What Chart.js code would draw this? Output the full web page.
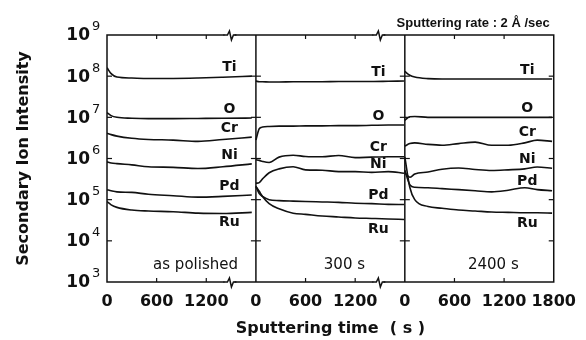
<!DOCTYPE html>
<html>
<head>
<meta charset="utf-8">
<script src="https://cdn.jsdelivr.net/npm/chart.js@4.4.1/dist/chart.umd.min.js"></script>
<style>
  html, body { margin: 0; padding: 0; background: #fff; }
  #wrap { width: 586px; height: 340px; }
</style>
</head>
<body>
<div id="wrap"><canvas id="sims"></canvas></div>
<script>
// Datos (intensidad vs tiempo de sputtering, 3 paneles)
const species = ['Ti', 'O', 'Cr', 'Ni', 'Pd', 'Ru'];
const panelNames = ['as polished', '300 s', '2400 s'];
const yExponents = [3, 4, 5, 6, 7, 8, 9];
const timeTicks = [0, 600, 1200];
const panelSpan = 1800;

// Panel 1 : as polished
const polishedTime = [0, 50, 120, 300, 500, 800, 1100, 1400, 1750];
const polishedTi = [1.6e8, 1.15e8, 9.5e7, 9.0e7, 8.8e7, 8.8e7, 9.0e7, 9.4e7, 1.0e8];
const polishedO  = [1.3e7, 1.1e7, 1.0e7, 9.5e6, 9.3e6, 9.3e6, 9.4e6, 9.5e6, 9.6e6];
const polishedCr = [4.1e6, 3.8e6, 3.5e6, 3.1e6, 2.9e6, 2.8e6, 2.6e6, 2.9e6, 3.3e6];
const polishedNi = [8.3e5, 7.8e5, 7.5e5, 7.0e5, 6.3e5, 6.1e5, 5.7e5, 6.3e5, 7.4e5];
const polishedPd = [1.75e5, 1.65e5, 1.55e5, 1.5e5, 1.35e5, 1.25e5, 1.15e5, 1.2e5, 1.3e5];
const polishedRu = [9.0e4, 7.5e4, 6.5e4, 5.6e4, 5.3e4, 5.1e4, 4.7e4, 4.6e4, 4.9e4];

// Panel 2 : 300 s
const t300Time = [0, 40, 80, 160, 280, 450, 600, 800, 1000, 1200, 1400, 1600, 1790];
const t300Ti = [7.6e7, 7.3e7, 7.3e7, 7.2e7, 7.2e7, 7.3e7, 7.3e7, 7.3e7, 7.4e7, 7.4e7, 7.4e7, 7.5e7, 7.6e7];
const t300O  = [2.8e6, 5.3e6, 5.8e6, 6.0e6, 6.1e6, 6.1e6, 6.2e6, 6.2e6, 6.3e6, 6.3e6, 6.4e6, 6.5e6, 6.5e6];
const t300Cr = [9.3e5, 9.0e5, 8.5e5, 8.0e5, 1.08e6, 1.2e6, 1.12e6, 1.1e6, 1.18e6, 1.05e6, 1.08e6, 1.1e6, 1.1e6];
const t300Ni = [2.5e5, 2.6e5, 3.2e5, 4.5e5, 5.6e5, 6.3e5, 5.3e5, 5.2e5, 4.8e5, 4.8e5, 4.6e5, 4.8e5, 4.4e5];
const t300Pd = [2.1e5, 1.4e5, 1.2e5, 1.0e5, 9.5e4, 9.2e4, 9.0e4, 8.8e4, 8.6e4, 8.2e4, 8.0e4, 7.7e4, 7.6e4];
const t300Ru = [2.1e5, 1.6e5, 1.2e5, 8.0e4, 6.0e4, 4.7e4, 4.4e4, 4.0e4, 3.8e4, 3.6e4, 3.5e4, 3.4e4, 3.3e4];

// Panel 3 : 2400 s
const t2400Time = [0, 60, 120, 280, 450, 650, 850, 1050, 1250, 1450, 1600, 1780];
const t2400Ti = [1.3e8, 1.05e8, 9.5e7, 8.7e7, 8.5e7, 8.5e7, 8.5e7, 8.5e7, 8.5e7, 8.5e7, 8.5e7, 8.5e7];
const t2400O  = [8.5e6, 1.03e7, 1.05e7, 1.0e7, 1.0e7, 1.0e7, 1.0e7, 1.0e7, 1.0e7, 1.0e7, 1.0e7, 1.0e7];
const t2400Cr = [2.0e6, 2.3e6, 2.4e6, 2.2e6, 2.1e6, 2.3e6, 2.5e6, 2.1e6, 2.1e6, 2.4e6, 2.8e6, 2.6e6];
const t2400Ni = [4.5e5, 3.5e5, 4.2e5, 4.7e5, 5.5e5, 5.9e5, 5.4e5, 5.1e5, 5.3e5, 5.6e5, 6.2e5, 5.8e5];
const t2400Pd = [5.2e5, 2.3e5, 2.0e5, 1.95e5, 1.85e5, 1.75e5, 1.65e5, 1.55e5, 1.7e5, 1.95e5, 1.75e5, 1.65e5];
const t2400Ru = [1.1e6, 2.0e5, 1.0e5, 6.8e4, 6.2e4, 5.6e4, 5.3e4, 5.0e4, 4.9e4, 4.8e4, 4.8e4, 4.7e4];

const panelTimes = [polishedTime, t300Time, t2400Time];
const panelSeries = [
    [polishedTi, polishedO, polishedCr, polishedNi, polishedPd, polishedRu],
    [t300Ti, t300O, t300Cr, t300Ni, t300Pd, t300Ru],
    [t2400Ti, t2400O, t2400Cr, t2400Ni, t2400Pd, t2400Ru]
];

const ink = '#111';

// un dataset por especie y por panel (para que las lineas no se unan)
const datasets = [];
panelSeries.forEach((series, p) => {
    series.forEach((values, i) => {
        datasets.push({
            label: species[i] + ' ' + panelNames[p],
            data: values.map((v, k) => ({ x: p * panelSpan + panelTimes[p][k], y: v })),
            borderColor: ink,
            borderWidth: 1.6,
            pointRadius: 0,
            tension: 0.3,
            cubicInterpolationMode: 'monotone'
        });
    });
});

function line(ctx, x1, y1, x2, y2) {
    ctx.beginPath();
    ctx.moveTo(x1, y1);
    ctx.lineTo(x2, y2);
    ctx.stroke();
}

// marco, marcas interiores, cortes del eje y textos
const paperPlugin = {
    id: 'paper',
    afterDraw(chart) {
        const ctx = chart.ctx;
        const a = chart.chartArea;
        const xs = chart.scales.x;
        const ys = chart.scales.y;
        const nPanels = panelNames.length;
        ctx.save();
        ctx.strokeStyle = ink;
        ctx.fillStyle = ink;

        // ticks interiores en los bordes de cada panel
        ctx.lineWidth = 1.2;
        yExponents.slice(1, -1).forEach(e => {
            const y = ys.getPixelForValue(Math.pow(10, e));
            for (let p = 0; p <= nPanels; p++) {
                const x = xs.getPixelForValue(p * panelSpan);
                if (p > 0) line(ctx, x - 5, y, x, y);
                if (p < nPanels) line(ctx, x, y, x + 5, y);
            }
        });
        for (let p = 0; p < nPanels; p++) {
            timeTicks.slice(1).forEach(t => {
                const x = xs.getPixelForValue(p * panelSpan + t);
                line(ctx, x, a.top, x, a.top + 4);
                line(ctx, x, a.bottom, x, a.bottom - 4);
            });
        }

        // marco y divisiones
        ctx.lineWidth = 1.5;
        ctx.strokeRect(a.left, a.top, a.right - a.left, a.bottom - a.top);
        for (let p = 1; p < nPanels; p++) {
            const x = xs.getPixelForValue(p * panelSpan);
            line(ctx, x, a.top, x, a.bottom);
        }

        // cortes (zigzag) en paneles 1 y 2
        for (let p = 0; p < nPanels - 1; p++) {
            const x = xs.getPixelForValue(p * panelSpan + 1480);
            [a.top, a.bottom].forEach(y => {
                ctx.fillStyle = '#fff';
                ctx.fillRect(x - 5, y - 2, 10, 4);
                ctx.beginPath();
                ctx.moveTo(x - 6, y);
                ctx.lineTo(x - 2, y);
                ctx.lineTo(x, y - 4);
                ctx.lineTo(x + 2, y + 5);
                ctx.lineTo(x + 4, y);
                ctx.lineTo(x + 7, y);
                ctx.stroke();
            });
        }
        ctx.fillStyle = ink;

        // etiquetas del eje y: 10^n
        yExponents.forEach(e => {
            const y = ys.getPixelForValue(Math.pow(10, e));
            ctx.font = 'bold 17px "DejaVu Sans"';
            ctx.textAlign = 'right';
            ctx.textBaseline = 'middle';
            ctx.fillText('10', a.left - 17, y + 1);
            ctx.font = '13px "DejaVu Sans"';
            ctx.textAlign = 'left';
            ctx.fillText(String(e), a.left - 15, y - 8);
        });

        // nombres de especies sobre la linea (Ru debajo)
        ctx.font = 'bold 14px "DejaVu Sans"';
        ctx.textAlign = 'center';
        ctx.textBaseline = 'middle';
        panelSeries.forEach((series, p) => {
            const x = xs.getPixelForValue(p * panelSpan + 1480);
            series.forEach((values, i) => {
                const y = ys.getPixelForValue(values[values.length - 1]);
                const below = species[i] === 'Ru';
                ctx.fillText(species[i], x, below ? y + 10 : y - 9);
            });
        });

        // nombre de cada panel
        ctx.font = '15px "DejaVu Sans"';
        panelNames.forEach((name, p) => {
            const x = xs.getPixelForValue(p * panelSpan + 1070);
            ctx.fillText(name, x, a.bottom - 17);
        });

        // titulo
        ctx.font = 'bold 13px "Liberation Sans"';
        ctx.textAlign = 'right';
        ctx.textBaseline = 'alphabetic';
        ctx.fillText('Sputtering rate : 2 \u00C5 /sec', a.right - 4, 27);
        ctx.restore();
    }
};

const ctx = document.getElementById('sims').getContext('2d');
const simsChart = new Chart(ctx, {
    type: 'line',
    data: { datasets: datasets },
    options: {
        responsive: true,
        maintainAspectRatio: false,
        animation: false,
        layout: { padding: { top: 35, right: 29, left: 0, bottom: 0 } },
        plugins: {
            legend: { display: false },
            tooltip: { enabled: false }
        },
        scales: {
            x: {
                type: 'linear',
                min: 0,
                max: panelSpan * panelNames.length,
                afterFit: s => { s.height = 58; },
                grid: { display: false, drawTicks: false },
                border: { display: false },
                ticks: {
                    stepSize: 600,
                    autoSkip: false,
                    maxRotation: 0,
                    padding: 10,
                    color: ink,
                    font: { family: 'DejaVu Sans', size: 16, weight: 'bold' },
                    callback: v => v === panelSpan * panelNames.length ? String(panelSpan) : String(v % panelSpan)
                },
                title: {
                    display: true,
                    text: 'Sputtering time  ( s )',
                    color: ink,
                    font: { family: 'DejaVu Sans', size: 16, weight: 'bold' },
                    padding: { top: 0, bottom: 2 }
                }
            },
            y: {
                type: 'logarithmic',
                min: 1e3,
                max: 1e9,
                afterFit: s => { s.width = 107; },
                grid: { display: false, drawTicks: false },
                border: { display: false },
                ticks: { display: false },
                title: {
                    display: true,
                    text: 'Secondary Ion Intensity',
                    color: ink,
                    font: { family: 'DejaVu Sans', size: 16, weight: 'bold' },
                    padding: { top: 14, bottom: 0 }
                }
            }
        }
    },
    plugins: [paperPlugin]
});
</script>
</body>
</html>
